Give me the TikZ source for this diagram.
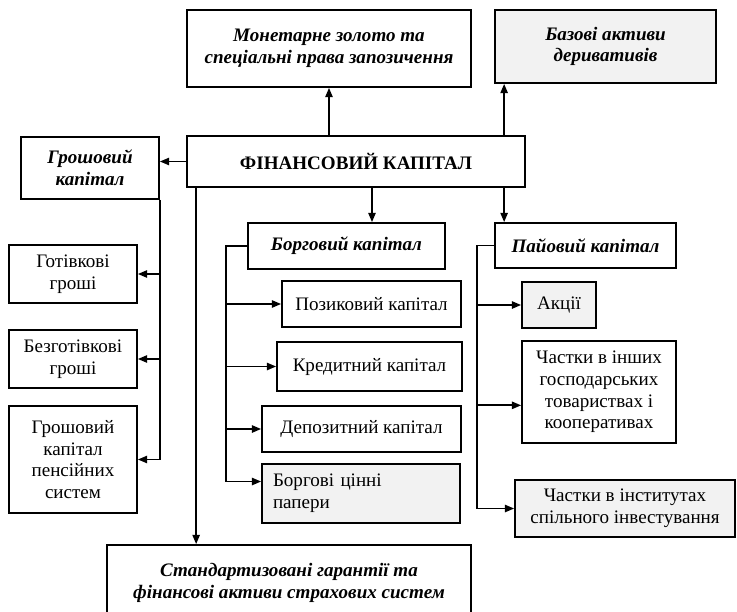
\documentclass[tikz,border=0pt]{standalone}
\usepackage{fontspec}
\setmainfont{Liberation Serif}
\usetikzlibrary{arrows.meta,calc}
\definecolor{boxgray}{HTML}{F2F2F2}

\begin{document}
\begin{tikzpicture}[x=0.75pt,y=-0.75pt,
  box/.style={draw=black, line width=1.3pt, inner sep=0pt, align=center,
    font=\fontsize{14.3}{16.3}\selectfont},
  title/.style={box, font=\fontsize{14.3}{16.3}\selectfont\bfseries\itshape},
  size/.style 2 args={minimum width=#1*0.75pt, minimum height=#2*0.75pt},
  shaded/.style={fill=boxgray},
  arr/.style={line width=1.3pt, -{Triangle[length=7pt,width=5.5pt]}},
  trunk/.style={line width=1.3pt}]
\useasboundingbox (0,0) rectangle (737,611);
% top row
\node[title, size={284}{77}] (mon) at (329,48.5) {Монетарне золото та\\спеціальні права запозичення};
\node[title, shaded, size={221}{73}] (baz) at (605.5,46.5) {Базові активи\\деривативів};
\node[box, font=\fontsize{14.3}{16.3}\selectfont\bfseries, size={338}{51}] (fin) at (356,161.5) {ФІНАНСОВИЙ КАПІТАЛ};
% money capital
\node[title, size={138}{62}] (grosh) at (90,168) {Грошовий\\капітал};
\node[box, size={128}{58}] (got) at (73,274) {Готівкові\\гроші};
\node[box, size={128}{58}] (bezgot) at (73,359) {Безготівкові\\гроші};
\node[box, size={128}{107}] (pens) at (73,459.5) {Грошовий\\капітал\\пенсійних\\систем};
% debt capital
\node[title, size={197}{46}] (borg) at (346.5,246) {Борговий капітал};
\node[box, size={179}{46}] (poz) at (371.5,304) {Позиковий капітал};
\node[box, size={185}{49}] (kred) at (369.5,366.5) {Кредитний капітал};
\node[box, size={199}{46}] (dep) at (361.5,429) {Депозитний капітал};
\node[box, shaded, align=left, size={198}{59}, text width=176*0.75pt] (cinni) at (361,493.5) {Боргові цінні\\папери};
% equity capital
\node[title, size={181}{45}] (pai) at (585.5,245.5) {Пайовий капітал};
\node[box, shaded, size={74}{46}] (akcii) at (559,305) {Акції};
\node[box, size={154}{102}] (chastky) at (599,392) {Частки в інших\\господарських\\товариствах і\\кооперативах};
\node[box, shaded, size={220}{57}] (instyt) at (625,508.5) {Частки в інститутах\\спільного інвестування};
% bottom
\node[title, size={364}{76}] (stand) at (289,583) {Стандартизовані гарантії та\\фінансові активи страхових систем};

% connectors from the centre box
\coordinate (bz) at ($(baz.south west)+(10,0)$);
\coordinate (fs) at ($(fin.south west)+(10,0)$);
\coordinate (fb) at ($(fin.south)+(16,0)$);
\draw[arr] (fin.north -| mon.south) -- (mon.south);
\draw[arr] (bz |- fin.north) -- (bz);
\draw[arr] (fin.west) -- (fin.west -| grosh.east);
\draw[arr] (fs) -- (fs |- stand.north);
\draw[arr] (fb) -- (fb |- borg.north);
\draw[arr] (bz |- fin.south) -- (bz |- pai.north);

% money capital branch
\draw[trunk] (grosh.south east) -- (grosh.south east |- pens.east);
\foreach \n in {got,bezgot,pens}
  \draw[arr] (grosh.south east |- \n.east) -- (\n.east);

% debt capital branch
\coordinate (bt) at ($(borg.west)+(-21,0)$);
\coordinate (bc) at ([yshift=9pt]cinni.west);
\draw[trunk] (borg.west) -- (bt) -- (bt |- bc);
\foreach \n in {poz,kred,dep}
  \draw[arr] (bt |- \n.west) -- (\n.west);
\draw[arr] (bt |- bc) -- (bc);

% equity capital branch
\coordinate (pt) at ($(pai.west)+(-17,0)$);
\coordinate (pc) at ([yshift=-10pt]chastky.west);
\draw[trunk] (pai.west) -- (pt) -- (pt |- instyt.west);
\draw[arr] (pt |- akcii.west) -- (akcii.west);
\draw[arr] (pt |- pc) -- (pc);
\draw[arr] (pt |- instyt.west) -- (instyt.west);
\end{tikzpicture}
\end{document}
